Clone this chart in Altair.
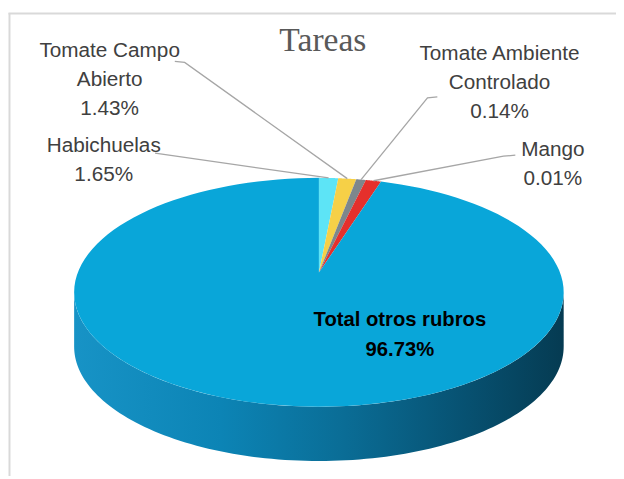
import altair as alt
import pandas as pd

# ---------------- data ----------------
names = ["Habichuelas", "Tomate Campo Abierto", "Tomate Ambiente Controlado", "Mango", "Total otros rubros"]
# share of each slice as drawn
slice_share = [1.5, 1.4, 0.75, 1.2, 95.15]
# percentages printed on the labels
label_pct = ["1.65%", "1.43%", "0.14%", "0.01%", "96.73%"]
colors = ["#5de4f6", "#f6d047", "#7d878c", "#e5302c", "#09a6d9"]

# ---------------- layout (chart pixel space) ----------------
W, H = 616, 471
CX, CY = 315, 265          # pie centre (apex of the slices)
A0, C, K = 244.3, 112.5, 0.172   # ellipse semi-axes + perspective factor
DEPTH = 55
N = 120

label_lines = ["Habichuelas", "Tomate Campo\nAbierto", "Tomate Ambiente\nControlado", "Mango", "Total otros rubros"]
label_x = [97, 103, 498, 552, 397]
label_y = [143, 47, 50, 147, 319]
lead_x0 = [149, 169, 435, 514, None]
lead_y0 = [144, 51, 87, 146, None]
lead_x1 = [149, 179, 425, 502, None]
lead_y1 = [144, 52, 88, 147, None]

df = pd.DataFrame({
    "rubro": names,
    "share": slice_share,
    "order": list(range(len(names))),
    "txt": [f"{l}\n{p}" for l, p in zip(label_lines, label_pct)],
    "lx": label_x, "ly": label_y,
    "x0": lead_x0, "y0": lead_y0, "x1": lead_x1, "y1": lead_y1,
    "main": [False, False, False, False, True],
})

xs = alt.Scale(domain=[0, W], nice=False, zero=False)
ys = alt.Scale(domain=[0, H], reverse=True, nice=False, zero=False)

PX = f"{CX} + {A0}*sin(datum.th)/(1+{K}*cos(datum.th))"
PY = f"{CY} - {C}*cos(datum.th)/(1+{K}*cos(datum.th))"

# ---------------- side wall ----------------
M = 120
wall = alt.Chart(pd.DataFrame({"part": ["lateral"]})).transform_calculate(
    a=f"PI/2 + asin({K})", b=f"3*PI/2 - asin({K})", s=f"sequence(0, {2*M+2})"
).transform_flatten(["s"]).transform_calculate(
    th=f"datum.s <= {M} ? datum.a + (datum.b-datum.a)*datum.s/{M} : datum.b - (datum.b-datum.a)*(datum.s-{M}-1)/{M}",
    dep=f"datum.s <= {M} ? 0 : {DEPTH}",
).transform_calculate(
    px=PX, py=f"{PY} + datum.dep"
).mark_line(
    filled=True, strokeWidth=0,
    fill=alt.Gradient(gradient="linear", x1=0, x2=1, y1=0, y2=0, stops=[
        alt.GradientStop(color="#1793c6", offset=0),
        alt.GradientStop(color="#0c84b5", offset=0.3),
        alt.GradientStop(color="#0a6d96", offset=0.55),
        alt.GradientStop(color="#075171", offset=0.8),
        alt.GradientStop(color="#053b52", offset=1),
    ]),
).encode(
    x=alt.X("px:Q", scale=xs, axis=None),
    y=alt.Y("py:Q", scale=ys, axis=None),
    order="s:Q",
)

# ---------------- slices (top face) ----------------
base = alt.Chart(df).transform_window(
    cum="sum(share)", sort=[alt.SortField("order")], frame=[None, 0]
).transform_joinaggregate(total="sum(share)")

slices = base.transform_calculate(
    t0="2*PI*(datum.cum-datum.share)/datum.total",
    t1="2*PI*datum.cum/datum.total",
    s=f"sequence(0, {N+2})",
).transform_flatten(["s"]).transform_calculate(
    th=f"datum.t0 + (datum.t1-datum.t0)*max(datum.s-1, 0)/{N}"
).transform_calculate(
    px=f"datum.s == 0 ? {CX} : {PX}",
    py=f"datum.s == 0 ? {CY} : {PY}",
).mark_line(filled=True, strokeWidth=0).encode(
    x=alt.X("px:Q", scale=xs, axis=None),
    y=alt.Y("py:Q", scale=ys, axis=None),
    color=alt.Color("rubro:N", scale=alt.Scale(domain=names, range=colors), legend=None),
    order="s:Q",
)

# ---------------- leader lines ----------------
leaders = base.transform_filter("!datum.main").transform_calculate(
    th="2*PI*(datum.cum-datum.share/2)/datum.total",
    s="sequence(0, 3)",
).transform_flatten(["s"]).transform_calculate(
    px=f"datum.s == 0 ? datum.x0 : (datum.s == 1 ? datum.x1 : {PX})",
    py=f"datum.s == 0 ? datum.y0 : (datum.s == 1 ? datum.y1 : {PY})",
).mark_line(color="#a6a6a6", strokeWidth=1.3).encode(
    x=alt.X("px:Q", scale=xs, axis=None),
    y=alt.Y("py:Q", scale=ys, axis=None),
    detail="rubro:N",
    order="s:Q",
)

# ---------------- labels ----------------
small_labels = alt.Chart(df).transform_filter("!datum.main").mark_text(
    font="Liberation Sans", fontSize=21, color="#404040", lineBreak="\n",
    lineHeight=29, align="center", baseline="alphabetic",
).encode(
    x=alt.X("lx:Q", scale=xs, axis=None),
    y=alt.Y("ly:Q", scale=ys, axis=None),
    text="txt:N",
)

main_label = alt.Chart(df).transform_filter("datum.main").mark_text(
    font="Liberation Sans", fontSize=20.5, fontWeight="bold", color="#000000",
    lineBreak="\n", lineHeight=30, align="center", baseline="alphabetic",
).encode(
    x=alt.X("lx:Q", scale=xs, axis=None),
    y=alt.Y("ly:Q", scale=ys, axis=None),
    text="txt:N",
)

title = alt.Chart(pd.DataFrame({"t": ["Tareas"]})).mark_text(
    font="Liberation Serif", fontSize=34, color="#595959", align="center", baseline="alphabetic",
).encode(x=alt.value(319), y=alt.value(40), text="t:N")

# ---------------- frame ----------------
frame_left = alt.Chart(pd.DataFrame({"f": [0]})).mark_rule(color="#d9d9d9", strokeWidth=2).encode(
    x=alt.value(1.5), y=alt.value(2), y2=alt.value(H)
)
frame_top = alt.Chart(pd.DataFrame({"f": [0]})).mark_rule(color="#d9d9d9", strokeWidth=2).encode(
    x=alt.value(0.5), x2=alt.value(W), y=alt.value(2.5)
)

chart = alt.layer(
    frame_left, frame_top, wall, slices, leaders, small_labels, main_label, title
).properties(
    width=W, height=H, autosize=alt.AutoSizeParams(type="none"), padding=0,
    background="white",
).configure_view(strokeWidth=0)

chart.save("out.html", embed_options={"renderer": "svg", "actions": False})
